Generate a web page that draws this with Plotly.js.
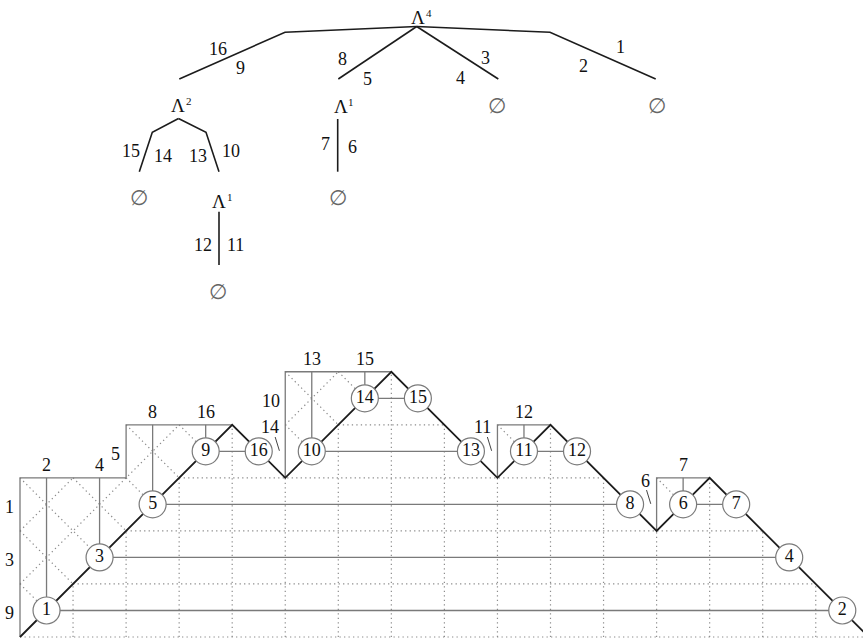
<!DOCTYPE html>
<html><head><meta charset="utf-8">
<script src="https://cdn.plot.ly/plotly-3.0.1.min.js"></script>
<style>html,body{margin:0;padding:0;background:#fff;}#chart{width:863px;height:641px;}</style>
</head><body><div id="chart"></div>
<script>
// ================= DATA =================
// Dyck path (U = up step, D = down step) and the label of each step's node
const pathSteps  = ["U","U","U","U","D","U","U","D","D","U","D","D","U","D","D","D"];
const nodeLabels = ["1","3","5","9","16","10","14","15","13","11","12","8","6","7","4","2"];
// boxes above ascending runs: start column and top height of each column
const boxStarts = [0, 5, 9, 12];
const boxTops   = [[3,3,4,4],[5,5],[4],[3]];
const boxRowLabels = [["9","3","1","5"],["14","10"],["11"],["6"]];

// Tree (own coordinate system)
const treeNodeText = ["Λ","Λ","Λ","∅","∅","Λ","∅","∅","∅"];
const treeNodeSup  = ["4","2","1","","","1","","",""];
const treeNodeX    = [418.3, 178.3, 340.5, 496.7, 656.7, 219.2, 139.3, 337.7, 218.3];
const treeNodeY    = [17.7, 105.3, 106, 106, 106, 201.7, 198.3, 198.3, 291.7];
const treeEdgeX = [[416.7,285,179.3],[416.7,338.3],[416.7,498.3],[416.7,550,655.7],
                   [178.5,152.3,139.3],[178.5,206,219],[219,219],[337.7,337.7]];
const treeEdgeY = [[26.5,32.3,79],[26.5,79],[26.5,79],[26.5,32.3,79],
                   [118.5,132.3,171.7],[118.5,132.3,171.7],[211.7,265],[119,171.7]];
const treeEdgeLabels = ["16","9","8","5","4","3","2","1","15","14","13","10","7","6","12","11"];
const treeEdgeLabelX = [218.3,240.3,342.8,367.7,460,485.8,583.8,620,131,162.5,197.5,230.5,325.8,352,203,235];
const treeEdgeLabelY = [48.8,67.5,59.3,78.8,78.3,58.3,66.3,47,151.2,156.3,156.3,150.7,144,146.7,245.3,245.3];

// ================= STYLE =================
const FONT = "Liberation Serif";
const INK = "#1c1c1c", GRAY = "#7a7a7a", DOT = "#8c8c8c";
const U = 53.05; // px per lattice unit

// ================= BUILD =================
const n = pathSteps.length;
const h = [0];
pathSteps.forEach((s,i)=>h.push(h[i] + (s==="U"?1:-1)));
const maxH = Math.max(...h);

const partner = new Array(n).fill(-1);
const stack = [];
pathSteps.forEach((s,i)=>{ if(s==="U") stack.push(i); else { const j=stack.pop(); partner[i]=j; partner[j]=i; } });

const traces = [];
function addSegs(xs, ys, line){ traces.push({type:"scatter",mode:"lines",x:xs,y:ys,line:line,hoverinfo:"skip",showlegend:false,xaxis:"x",yaxis:"y"}); }

// dotted grid under the path
let gx=[], gy=[];
for(let k=1;k<n;k++){ if(h[k]>0){ gx.push(k,k,null); gy.push(0,h[k],null); } }
for(let j=0;j<=maxH;j++){
  let start=null;
  for(let k=0;k<=n;k++){
    const inside = k<n && Math.min(h[k],h[k+1])>=j;
    if(inside && start===null) start=k;
    if(!inside && start!==null){ gx.push(start,k,null); gy.push(j,j,null); start=null; }
  }
}
// diagonal dotted lines inside the boxes
boxStarts.forEach((x0,b)=>{
  const tops = boxTops[b];
  [1,-1].forEach(s=>{
    for(let c=-40;c<=40;c++){
      const iv=[];
      tops.forEach((T,i)=>{
        const k=x0+i, hk=h[k];
        let lo,hi;
        if(s===1){ if(c<=hk-k) return; lo=k; hi=Math.min(k+1,T-c); }
        else { lo=Math.max(k,c-T); hi=Math.min(k+1,(c-hk+k)/2); }
        if(hi-lo>1e-9){
          if(iv.length && Math.abs(iv[iv.length-1][1]-lo)<1e-9) iv[iv.length-1][1]=hi;
          else iv.push([lo,hi]);
        }
      });
      iv.forEach(([a,z])=>{ gx.push(a,z,null); gy.push(s*a+c,s*z+c,null); });
    }
  });
});
addSegs(gx,gy,{color:DOT,width:1.2,dash:"1.3px,3.2px"});

// gray solid lines: box outlines, vertical stems, horizontal matchings
let sx=[], sy=[];
boxStarts.forEach((x0,b)=>{
  const tops=boxTops[b];
  sx.push(x0,x0); sy.push(h[x0],tops[0]);
  tops.forEach((T,i)=>{
    sx.push(x0+i+1); sy.push(T);
    if(i+1<tops.length && tops[i+1]!==T){ sx.push(x0+i+1); sy.push(tops[i+1]); }
  });
  sx.push(null); sy.push(null);
  tops.forEach((T,i)=>{ const k=x0+i; sx.push(k+0.5,k+0.5,null); sy.push(h[k]+0.5,T,null); });
});
pathSteps.forEach((s,i)=>{ if(s==="U"){ const j=partner[i]; sx.push(i+0.5,j+0.5,null); sy.push(h[i]+0.5,h[i]+0.5,null); } });
addSegs(sx,sy,{color:GRAY,width:1.3});

// leader ticks
let lx=[], ly=[];
boxStarts.forEach((x0,b)=>{ if(x0>0){ const r=h[x0]+0.5; lx.push(x0-0.19,x0-0.11,null); ly.push(r+0.27,r+0.01,null);} });
addSegs(lx,ly,{color:"#444",width:1});

// Dyck path
addSegs(h.map((_,i)=>i), h, {color:INK,width:1.8});

// nodes
traces.push({type:"scatter",mode:"markers+text",
  x:nodeLabels.map((_,k)=>k+0.5), y:nodeLabels.map((_,k)=>(h[k]+h[k+1])/2),
  text:nodeLabels, textposition:"middle center",
  textfont:{family:FONT,size:18,color:"#111"},
  marker:{size:27,color:"#fff",line:{color:GRAY,width:1.2}},
  hoverinfo:"skip",showlegend:false,cliponaxis:false});

// tree edges
treeEdgeX.forEach((xs,i)=>traces.push({type:"scatter",mode:"lines",x:xs,y:treeEdgeY[i],xaxis:"x2",yaxis:"y2",
  line:{color:INK,width:1.6},hoverinfo:"skip",showlegend:false}));

// annotations
const ann=[];
function lab(x,y,t,opt){ ann.push(Object.assign({x:x,y:y,text:t,showarrow:false,xref:"x",yref:"y",
  xanchor:"center",yanchor:"middle",font:{family:FONT,size:18,color:"#111"}},opt||{})); }
boxStarts.forEach((x0,b)=>{
  boxTops[b].forEach((T,i)=>{ const k=x0+i; lab(k+0.5,T+0.24,nodeLabels[partner[k]]); });
  boxRowLabels[b].forEach((t,r)=>{
    const y=h[x0]+r+0.5;
    let i=0; while(boxTops[b][i]<=y) i++;
    const ex=x0+i;
    if(r===0 && x0>0) lab(ex-0.08,y+0.45,t,{xanchor:"right"});
    else lab(ex-0.07,y-0.05,t,{xanchor:"right"});
  });
});
treeEdgeLabels.forEach((t,i)=>lab(treeEdgeLabelX[i],treeEdgeLabelY[i],t,{xref:"x2",yref:"y2"}));
treeNodeText.forEach((t,i)=>{
  if(t==="∅") lab(treeNodeX[i],treeNodeY[i],t,{xref:"x2",yref:"y2",font:{family:"DejaVu Sans",size:21,color:"#666"}});
  else {
    lab(treeNodeX[i],treeNodeY[i],t,{xref:"x2",yref:"y2",font:{family:FONT,size:19,color:"#111"}});
    lab(treeNodeX[i]+10.5,treeNodeY[i]-4.5,treeNodeSup[i],{xref:"x2",yref:"y2",font:{family:FONT,size:11,color:"#111"}});
  }
});

const layout={width:863,height:641,margin:{l:0,r:0,t:0,b:0},paper_bgcolor:"#fff",plot_bgcolor:"#fff",
  showlegend:false,
  xaxis:{range:[-20/U,843/U],visible:false,fixedrange:true},
  yaxis:{range:[-4/U,637/U],visible:false,fixedrange:true},
  xaxis2:{range:[0,863],overlaying:"x",visible:false,fixedrange:true},
  yaxis2:{range:[641,0],overlaying:"y",visible:false,fixedrange:true},
  annotations:ann};
Plotly.newPlot("chart",traces,layout,{staticPlot:true,displayModeBar:false});
</script></body></html>
